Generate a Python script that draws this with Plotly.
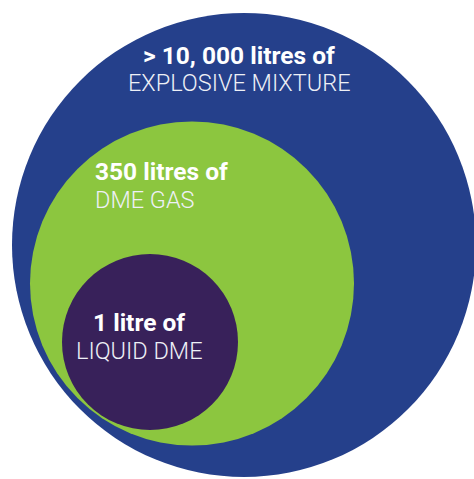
import plotly.graph_objects as go

# Data
volumes = [10000, 350, 1]
bold_labels = ["> 10, 000 litres of", "350 litres of", "1 litre of"]
sub_labels = ["EXPLOSIVE MIXTURE", "DME GAS", "LIQUID DME"]
colors = ["#25408b", "#8cc63f", "#38215a"]

# Geometry (pixel-like coordinates, y down)
centers = [(244, 245), (192, 283.5), (150, 342)]
radii = [232, 162, 88]
label_pos = [(239, 55, 83, "center"), (93, 171, 200, "left"), (139, 322, 351, "center")]

fig = go.Figure()
fig.add_trace(go.Scatter(x=[0, 474], y=[0, 479], mode="markers", marker=dict(opacity=0), hoverinfo="skip", showlegend=False))

for (cx, cy), r, c in zip(centers, radii, colors):
    fig.add_shape(type="circle", xref="x", yref="y", x0=cx - r, x1=cx + r, y0=cy - r, y1=cy + r,
                  fillcolor=c, line=dict(width=0), layer="below")

for (x, yb, ys, anchor), b, s in zip(label_pos, bold_labels, sub_labels):
    fig.add_annotation(x=x, y=yb, xref="x", yref="y", text="<b>" + b + "</b>", showarrow=False,
                       xanchor=anchor, yanchor="middle",
                       font=dict(family="Roboto", size=24.5, color="white"))
    fig.add_annotation(x=x, y=ys, xref="x", yref="y", text=s, showarrow=False,
                       xanchor=anchor, yanchor="middle",
                       font=dict(family="Roboto", size=23.5, color="#eef0f6", weight=300))

fig.update_layout(width=474, height=479, margin=dict(l=0, r=0, t=0, b=0),
                  paper_bgcolor="white", plot_bgcolor="white",
                  xaxis=dict(range=[0, 474], visible=False, fixedrange=True),
                  yaxis=dict(range=[479, 0], visible=False, fixedrange=True),
                  showlegend=False)
fig.write_html("out.html", config={"displayModeBar": False})
